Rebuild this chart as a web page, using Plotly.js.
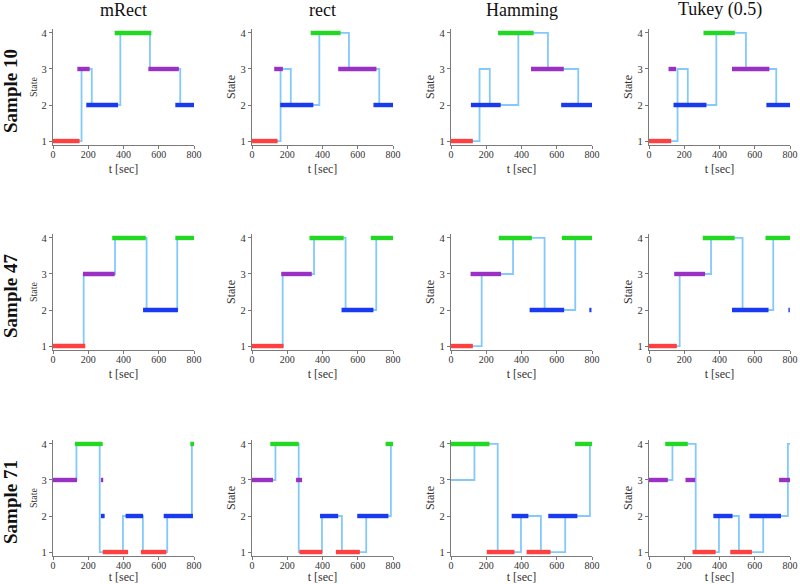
<!DOCTYPE html>
<html>
<head>
<meta charset="utf-8">
<script src="https://cdn.plot.ly/plotly-3.0.1.min.js"></script>
<style>body{margin:0;padding:0;background:#fff}#chart{width:800px;height:584px}</style>
</head>
<body>
<div id="chart"></div>
<script>
// ---- data ----
const methods = ['mRect', 'rect', 'Hamming', 'Tukey (0.5)'];
const samples = ['Sample 10', 'Sample 47', 'Sample 71'];
const xTickVals = [0, 200, 400, 600, 800];
const yTickVals = [1, 2, 3, 4];
const xTitle = 't [sec]';
const yTitle = 'State';

// true state sequence per sample (change times in sec, state after each change)
const s10_time  = [0, 162, 220, 382, 550, 722, 800];
const s10_state = [1, 3, 2, 4, 3, 2, 2];
const s47_time  = [0, 174, 352, 531, 705, 800];
const s47_state = [1, 3, 4, 2, 4, 4];
const s71_time  = [0, 133, 265, 397, 510, 648, 788, 800];
const s71_state = [3, 4, 1, 2, 1, 2, 4, 4];

// estimated segments per panel: [start, end, state]
const s10_mRect   = [[0,151,1],[138,208,3],[189,369,2],[350,558,4],[541,714,3],[694,800,2]];
const s10_rect    = [[0,145,1],[126,175,3],[160,348,2],[333,503,4],[489,706,3],[689,800,2]];
const s10_hamming = [[0,124,1],[113,282,2],[267,469,4],[454,640,3],[625,800,2]];
const s10_tukey   = [[0,126,1],[111,154,3],[139,326,2],[309,487,4],[471,683,3],[666,800,2]];

const s47_mRect   = [[0,183,1],[170,350,3],[336,526,4],[511,709,2],[694,800,4]];
const s47_rect    = [[0,179,1],[166,339,3],[326,520,4],[508,689,2],[674,800,4]];
const s47_hamming = [[0,124,1],[111,284,3],[271,459,4],[446,642,2],[629,800,4],[785,797,2]];
const s47_tukey   = [[0,158,1],[143,318,3],[305,486,4],[471,678,2],[661,800,4],[791,799,2]];

const s71_mRect   = [[0,136,3],[125,282,4],[272,285,3],[272,293,2],[282,426,1],[412,511,2],[499,643,1],[628,794,2],[779,800,4]];
const s71_rect    = [[0,119,3],[104,265,4],[250,284,3],[269,399,1],[386,489,2],[476,612,1],[597,774,2],[758,800,4]];
const s71_hamming = [[0,218,4],[203,360,1],[344,439,2],[429,565,1],[552,717,2],[704,800,4]];
const s71_tukey   = [[0,107,3],[92,220,4],[207,262,3],[247,378,1],[365,474,2],[461,584,1],[570,749,2],[738,800,3]];

const truthRows = [[s10_time, s10_state], [s47_time, s47_state], [s71_time, s71_state]];
const segRows = [
  [s10_mRect, s10_rect, s10_hamming, s10_tukey],
  [s47_mRect, s47_rect, s47_hamming, s47_tukey],
  [s71_mRect, s71_rect, s71_hamming, s71_tukey]
];

// ---- styling ----
const stateColors = {1: '#ff4040', 2: '#1a3af0', 3: '#9a30c4', 4: '#22d822'};
const truthColor = '#84c9fb';
const serif = 'Liberation Serif, Times New Roman, serif';
const W = 800, H = 584;
const colLeft = [53, 252, 451, 649];
const panelW = 141;
const rowTop = [29, 234, 440];
const panelH = 116;

const traces = [];
const layout = {
  width: W, height: H,
  margin: {l: 0, r: 0, t: 0, b: 0},
  paper_bgcolor: '#ffffff', plot_bgcolor: '#ffffff',
  showlegend: false,
  font: {family: serif, color: '#333'},
  annotations: []
};

for (let r = 0; r < 3; r++) {
  for (let c = 0; c < 4; c++) {
    const k = r * 4 + c + 1;
    const xa = 'x' + (k === 1 ? '' : k), ya = 'y' + (k === 1 ? '' : k);
    const xKey = 'xaxis' + (k === 1 ? '' : k), yKey = 'yaxis' + (k === 1 ? '' : k);
    traces.push({
      type: 'scatter', mode: 'lines', x: truthRows[r][0], y: truthRows[r][1],
      line: {shape: 'hv', color: truthColor, width: 1.8},
      xaxis: xa, yaxis: ya, hoverinfo: 'skip'
    });
    for (const st of [1, 2, 3, 4]) {
      const xs = [], ys = [];
      segRows[r][c].forEach(s => {
        if (s[2] === st) { xs.push(s[0], s[1], null); ys.push(st, st, null); }
      });
      if (xs.length) {
        traces.push({
          type: 'scatter', mode: 'lines', x: xs, y: ys,
          line: {color: stateColors[st], width: 4.4},
          xaxis: xa, yaxis: ya, hoverinfo: 'skip', connectgaps: false
        });
      }
    }
    const x0 = colLeft[c] / W, x1 = (colLeft[c] + panelW) / W;
    const y1 = 1 - rowTop[r] / H, y0 = 1 - (rowTop[r] + panelH) / H;
    layout[xKey] = {
      domain: [x0, x1], anchor: ya, range: [0, 800],
      tickvals: xTickVals, ticks: 'outside', ticklen: 3, tickcolor: '#777',
      ticklabelstandoff: -3,
      showline: true, linecolor: '#7a7a7a', linewidth: 1.2,
      showgrid: false, zeroline: false,
      tickfont: {family: serif, size: 10, color: '#333'},
      title: {text: xTitle, font: {family: serif, size: 12, color: '#333'}, standoff: 5}
    };
    layout[yKey] = {
      domain: [y0, y1], anchor: xa, range: [0.89, 4.11],
      tickvals: yTickVals, ticks: 'outside', ticklen: 3, tickcolor: '#777',
      showline: true, linecolor: '#7a7a7a', linewidth: 1.2,
      showgrid: false, zeroline: false,
      tickfont: {family: serif, size: 10.5, color: '#333'},
      title: {text: yTitle, font: {family: serif, size: c === 0 ? 10 : 12, color: '#333'}, standoff: 2}
    };
  }
}

methods.forEach((m, c) => {
  layout.annotations.push({
    text: m, xref: 'paper', yref: 'paper',
    x: (colLeft[c] + panelW / 2) / W, y: 1 - 10 / H,
    xanchor: 'center', yanchor: 'middle', showarrow: false,
    font: {family: serif, size: 18, color: '#111'}
  });
});
samples.forEach((s, r) => {
  layout.annotations.push({
    text: '<b>' + s + '</b>', xref: 'paper', yref: 'paper',
    x: 10 / W, y: 1 - (rowTop[r] + panelH / 2 + 4) / H,
    xanchor: 'center', yanchor: 'middle', showarrow: false, textangle: -90,
    font: {family: serif, size: 19, color: '#111'}
  });
});

Plotly.newPlot('chart', traces, layout, {staticPlot: true, displayModeBar: false});
</script>
</body>
</html>
